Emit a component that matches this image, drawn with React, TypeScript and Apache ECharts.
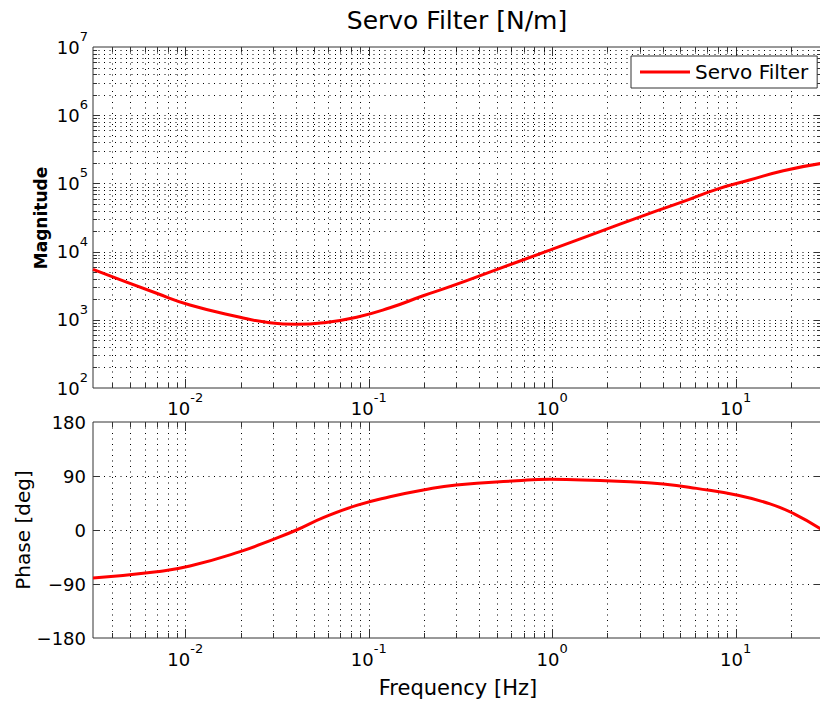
import React, { useEffect, useRef } from "react";
import * as echarts from "echarts";

// ---------- data ----------
const FREQ_MIN = 0.00314;
const FREQ_MAX = 29.2;

const magFreq = [0.00314, 0.00698, 0.0106, 0.0199, 0.0278, 0.0404, 0.0565, 0.0859, 0.1305, 0.198, 0.277, 0.519, 0.97, 1.82, 3.4, 5.17, 7.87, 11.9, 18.2, 29.2];
const magValues = [5500, 2450, 1650, 1090, 920, 860, 905, 1090, 1500, 2250, 3060, 5690, 10500, 19600, 36400, 54000, 81800, 112000, 153600, 196000];

const phaseFreq = [0.00314, 0.00698, 0.0106, 0.0199, 0.0302, 0.0404, 0.0565, 0.0859, 0.1305, 0.198, 0.3, 0.64, 0.97, 1.82, 2.66, 4.03, 6.12, 10.1, 15.4, 20.6, 29.2];
const phaseValues = [-80, -69.5, -60, -36, -15.5, 0, 20.5, 41, 55.5, 66.7, 75, 82, 84.4, 82.5, 80.5, 76.7, 69.4, 58.3, 43.5, 27.8, 1.5];

const magTicks = [1e2, 1e3, 1e4, 1e5, 1e6, 1e7];
const phaseTicks = [-180, -90, 0, 90, 180];
const freqDecades = [1e-3, 1e-2, 1e-1, 1e0, 1e1];
const minorMultipliers = [1, 2, 3, 4, 5, 6, 7, 8, 9];

const FONT = "DejaVu Sans";

function logGridValues(decades: number[], lo: number, hi: number): number[] {
  const out: number[] = [];
  decades.forEach((d) =>
    minorMultipliers.forEach((m) => {
      const v = +(d * m).toPrecision(6);
      if (v > lo * 1.0001 && v < hi * 0.9999) out.push(v);
    })
  );
  return out;
}

const isDecade = (v: number) =>
  Math.abs(Math.log10(v) - Math.round(Math.log10(v))) < 1e-6;

const freqGrid = logGridValues(freqDecades, FREQ_MIN, FREQ_MAX);
const magGrid = logGridValues(magTicks.slice(0, -1), magTicks[0], magTicks[magTicks.length - 1]);
const phaseGrid = phaseTicks.filter((v) => v > phaseTicks[0] && v < phaseTicks[phaseTicks.length - 1]);

const powLabel = (v: number) => {
  if (!isDecade(v)) return "";
  const e = Math.round(Math.log10(v));
  return `{b|10}{s|${e}}`;
};

const richPow = {
  b: { fontFamily: FONT, fontSize: 18, color: "#000", lineHeight: 34, verticalAlign: "middle" },
  s: { fontFamily: FONT, fontSize: 13, color: "#000", lineHeight: 13, verticalAlign: "top" },
};

const DOT = [1, 4.5];
const GRID_COLOR = "#000";
const FRAME = "#333";

function vGrid(idx: number, values: number[], yAnchor: number) {
  return {
    type: "custom",
    xAxisIndex: idx,
    yAxisIndex: idx,
    silent: true,
    z: 1,
    data: values.map((v) => [v, yAnchor]),
    renderItem: (params: any, api: any) => {
      const cs = params.coordSys;
      const v = api.value(0);
      const x = Math.round(api.coord([v, yAnchor])[0]) + 0.5;
      const tl = isDecade(v) ? 9 : 5;
      const top = cs.y;
      const bot = cs.y + cs.height;
      return {
        type: "group",
        children: [
          { type: "line", shape: { x1: x, y1: top, x2: x, y2: bot }, style: { stroke: GRID_COLOR, lineWidth: 1, lineDash: DOT } },
          { type: "line", shape: { x1: x, y1: bot, x2: x, y2: bot - tl }, style: { stroke: FRAME, lineWidth: 1 } },
          { type: "line", shape: { x1: x, y1: top, x2: x, y2: top + tl }, style: { stroke: FRAME, lineWidth: 1 } },
        ],
      };
    },
  };
}

function hGrid(idx: number, values: number[], xAnchor: number, allMajor: boolean) {
  return {
    type: "custom",
    xAxisIndex: idx,
    yAxisIndex: idx,
    silent: true,
    z: 1,
    data: values.map((v) => [xAnchor, v]),
    renderItem: (params: any, api: any) => {
      const cs = params.coordSys;
      const v = api.value(1);
      const y = Math.round(api.coord([xAnchor, v])[1]) + 0.5;
      const tl = allMajor || isDecade(v) ? 7 : 4;
      const left = cs.x;
      const right = cs.x + cs.width;
      return {
        type: "group",
        children: [
          { type: "line", shape: { x1: left, y1: y, x2: right, y2: y }, style: { stroke: GRID_COLOR, lineWidth: 1, lineDash: DOT } },
          { type: "line", shape: { x1: left, y1: y, x2: left + tl, y2: y }, style: { stroke: FRAME, lineWidth: 1 } },
          { type: "line", shape: { x1: right, y1: y, x2: right - tl, y2: y }, style: { stroke: FRAME, lineWidth: 1 } },
        ],
      };
    },
  };
}

const hidden = { axisLine: { show: false }, axisTick: { show: false }, splitLine: { show: false } };

export default function App() {
  const ref = useRef<HTMLDivElement>(null);

  useEffect(() => {
    if (!ref.current) return;
    const chart = echarts.init(ref.current, undefined, { renderer: "svg" });
    const option: any = {
      animation: false,
      backgroundColor: "#fff",
      textStyle: { fontFamily: FONT },
      grid: [
        { left: 93, top: 47, width: 728, height: 341, show: true, borderColor: FRAME, borderWidth: 1, backgroundColor: "#fff", containLabel: false, outerBoundsMode: "none" },
        { left: 93, top: 422, width: 728, height: 216, show: true, borderColor: FRAME, borderWidth: 1, backgroundColor: "#fff", containLabel: false, outerBoundsMode: "none" },
      ],
      xAxis: [
        { gridIndex: 0, type: "log", logBase: 10, min: FREQ_MIN, max: FREQ_MAX, ...hidden, axisLabel: { formatter: powLabel, rich: richPow, margin: 3, showMinLabel: false, showMaxLabel: false } },
        { gridIndex: 1, type: "log", logBase: 10, min: FREQ_MIN, max: FREQ_MAX, ...hidden, axisLabel: { formatter: powLabel, rich: richPow, margin: 4, showMinLabel: false, showMaxLabel: false } },
      ],
      yAxis: [
        { gridIndex: 0, type: "log", logBase: 10, min: magTicks[0], max: magTicks[magTicks.length - 1], ...hidden, axisLabel: { formatter: powLabel, rich: richPow, margin: 5 } },
        {
          gridIndex: 1, type: "value", min: phaseTicks[0], max: phaseTicks[phaseTicks.length - 1], interval: 90, ...hidden,
          axisLabel: { formatter: (v: number) => (v < 0 ? "\u2212" + Math.abs(v) : String(v)), fontFamily: FONT, fontSize: 18, color: "#000", margin: 7 },
        },
      ],
      legend: {
        data: ["Servo Filter"],
        left: 631,
        top: 56,
        padding: [5, 9, 5, 9],
        icon: "rect",
        itemWidth: 50,
        itemHeight: 3,
        borderColor: FRAME,
        borderWidth: 1,
        backgroundColor: "#fff",
        selectedMode: false,
        textStyle: { fontFamily: FONT, fontSize: 20, color: "#000", lineHeight: 22 },
      },
      graphic: [
        { type: "text", x: 457, y: 20, style: { text: "Servo Filter [N/m]", fontFamily: FONT, fontSize: 25, fill: "#000", align: "center", verticalAlign: "middle" } },
        { type: "text", x: 41, y: 218, rotation: Math.PI / 2, style: { text: "Magnitude", fontFamily: FONT, fontSize: 17, fontWeight: "bold", fill: "#000", align: "center", verticalAlign: "middle" } },
        { type: "text", x: 23, y: 530, rotation: Math.PI / 2, style: { text: "Phase [deg]", fontFamily: FONT, fontSize: 20, fill: "#000", align: "center", verticalAlign: "middle" } },
        { type: "text", x: 458, y: 688, style: { text: "Frequency [Hz]", fontFamily: FONT, fontSize: 21, fill: "#000", align: "center", verticalAlign: "middle" } },
      ],
      series: [
        vGrid(0, freqGrid, 1000),
        hGrid(0, magGrid, 1, false),
        vGrid(1, freqGrid, 0),
        hGrid(1, phaseGrid, 1, true),
        {
          type: "line", name: "Servo Filter", xAxisIndex: 0, yAxisIndex: 0,
          data: magFreq.map((f, i) => [f, magValues[i]]),
          symbol: "none", showSymbol: false, smooth: 0.5, z: 5,
          lineStyle: { color: "#ff0000", width: 3 }, itemStyle: { color: "#ff0000" },
        },
        {
          type: "line", name: "Phase", xAxisIndex: 1, yAxisIndex: 1,
          data: phaseFreq.map((f, i) => [f, phaseValues[i]]),
          symbol: "none", showSymbol: false, smooth: 0.5, z: 5,
          lineStyle: { color: "#ff0000", width: 3 }, itemStyle: { color: "#ff0000" },
        },
      ],
    };
    chart.setOption(option);
    return () => chart.dispose();
  }, []);

  return <div ref={ref} style={{ position: "absolute", left: 0, top: 0, width: 820, height: 702 }} />;
}
